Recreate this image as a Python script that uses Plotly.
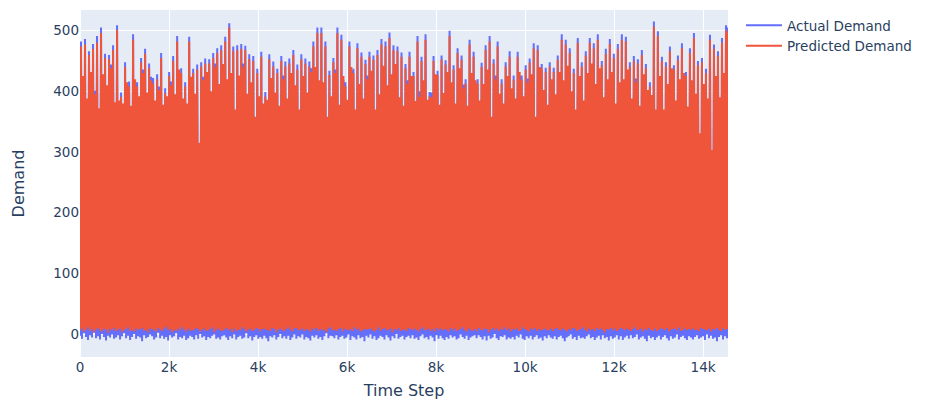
import numpy as np
import plotly.graph_objects as go

# ---- data (alternating troughs / peaks per ~2px column) ----
time_start = 0
time_end = 14560

predicted_top = [
    474, 425, 477, 388, 460, 432, 470, 395, 480, 372,
    496, 428, 455, 410, 453, 438, 468, 382, 501, 385,
    391, 380, 440, 415, 408, 376, 485, 420, 408, 392,
    448, 430, 462, 398, 439, 418, 413, 385, 420, 402,
    455, 378, 397, 392, 425, 410, 450, 395, 482, 436,
    430, 388, 408, 380, 482, 424, 430, 396, 436, 315,
    441, 418, 446, 432, 446, 400, 455, 440, 463, 412,
    468, 445, 482, 420, 505, 430, 466, 370, 468, 426,
    470, 440, 468, 396, 453, 415, 450, 358, 430, 392,
    457, 380, 391, 386, 453, 422, 441, 398, 430, 376,
    450, 420, 441, 388, 446, 430, 460, 410, 436, 370,
    453, 425, 446, 398, 441, 432, 474, 440, 496, 418,
    496, 415, 474, 358, 427, 392, 448, 430, 496, 378, 485, 425, 408, 386, 474, 440, 430, 370, 471, 412,
    457, 388, 445, 420, 457, 434, 452, 370, 460, 395, 477, 442, 474, 410, 488, 428, 468, 445, 466, 390,
    457, 376, 438, 412, 457, 425, 425, 384, 482, 391, 450, 418, 485, 386, 392, 390, 450, 428, 427, 378,
    452, 397, 444, 432, 491, 415, 436, 380, 463, 438, 452, 405, 413, 376, 477, 430, 457, 418, 413, 385,
    440, 412, 468, 436, 482, 358, 446, 420, 474, 396, 413, 380, 441, 425, 457, 405, 419, 388, 457, 432,
    419, 392, 436, 415, 447, 428, 471, 358, 468, 440, 438, 402, 432, 378, 441, 420, 432, 395, 452, 432,
    485, 418, 477, 442, 463, 400, 430, 370, 480, 425, 441, 385, 459, 430, 480, 446, 471, 412, 485, 438,
    443, 390, 462, 420, 478, 432, 455, 380, 470, 415,
    485, 420, 482, 436, 441, 388, 450, 415, 446, 376, 460, 428, 438, 402, 408, 394, 507, 370,
    491, 425, 450, 370, 441, 412, 466, 438, 436, 385, 452, 420, 471, 430, 425, 375, 463, 418,
    488, 396, 443, 331, 448, 412, 430, 388, 485, 303, 470, 425, 458, 390, 480, 430, 501, 497,
]

actual_top = [
    482, 419, 486, 382, 466, 426, 478, 401, 491, 366,
    505, 422, 462, 404, 460, 444, 476, 376, 509, 380,
    398, 372, 448, 409, 416, 370, 494, 414, 415, 386,
    455, 436, 470, 392, 446, 424, 422, 379, 428, 408,
    463, 372, 405, 386, 432, 416, 458, 389, 491, 430,
    438, 382, 415, 374, 490, 418, 437, 390, 444, 308,
    448, 424, 454, 426, 453, 394, 463, 446, 471, 406,
    476, 439, 490, 414, 512, 424, 474, 364, 476, 420,
    478, 446, 475, 390, 461, 409, 458, 352, 437, 386,
    465, 374, 399, 380, 461, 416, 449, 392, 437, 370,
    458, 426, 449, 382, 454, 424, 468, 404, 444, 364,
    461, 419, 454, 392, 449, 438, 482, 434, 505, 412,
    505, 409, 482, 352, 434, 386, 455, 436, 505, 372, 493, 419, 415, 380, 482, 434, 437, 364, 479, 406,
    464, 382, 452, 426, 465, 428, 459, 364, 468, 389, 486, 436, 482, 404, 497, 422, 476, 439, 474, 384,
    464, 370, 445, 418, 465, 419, 432, 378, 491, 400, 457, 412, 494, 380, 399, 398, 458, 422, 434, 372,
    459, 391, 451, 426, 500, 409, 443, 374, 471, 432, 459, 411, 420, 370, 485, 424, 465, 412, 420, 379,
    447, 406, 476, 430, 491, 352, 453, 426, 482, 390, 420, 374, 448, 419, 466, 399, 426, 382, 465, 426,
    426, 386, 443, 421, 454, 422, 479, 352, 476, 434, 445, 396, 439, 372, 448, 414, 439, 389, 459, 426,
    494, 412, 485, 436, 471, 394, 437, 364, 488, 419, 448, 379, 466, 424, 488, 440, 479, 406, 494, 432,
    450, 384, 470, 414, 486, 426, 462, 374, 478, 409,
    494, 414, 490, 430, 448, 382, 458, 421, 453, 370, 468, 422, 445, 396, 415, 388, 515, 364,
    499, 419, 457, 364, 448, 406, 474, 432, 443, 379, 459, 414, 479, 424, 432, 369, 471, 412,
    496, 390, 450, 325, 455, 406, 437, 382, 493, 297, 477, 419, 466, 384, 488, 424, 509, 505,
]

predicted_low = [
    6, 9, 4, 7, 11, 5, 8, 3, 7, 10, 6, 4, 9, 7, 2, 8, 6, 10,
    5, 7, 9, 3, 6, 8, 11, 5, 7, 4, 9, 6, 8, 10, 5, 7, 3, 9,
    8, 6, 4, 10, 7, 5, 9, 12, 6, 8, 3, 7, 5, 9, 6, 11, 7, 4,
    9, 5, 7, 6, 10, 8, 4, 7, 9, 5, 6, 8, 11, 3, 7, 9, 6, 5,
    7, 10, 6, 8, 3, 9, 5, 7, 6, 11, 8, 4, 7, 9, 5, 6, 10, 8,
    4, 8, 9, 6, 7, 5, 10, 8, 3, 7, 9, 6, 5, 8, 11, 7, 4, 9,
    10, 6, 7, 9, 5, 8, 6, 4, 9, 7, 10, 5, 8, 6, 7, 3, 9, 11,
    6, 7, 5, 8, 10, 4, 9, 7, 6, 8, 5, 11, 7, 9, 4, 6, 8, 7,
    8, 9, 6, 4, 7, 11, 5, 8, 10, 6, 7, 9, 3, 8, 6, 10, 5, 7,
    7, 5, 10, 8, 6, 9, 7, 4, 8, 11, 6, 7, 9, 5, 8, 4, 10, 6,
    9, 6, 8, 7, 4, 10, 6, 9, 5, 7, 8, 11, 6, 4, 9, 7, 5, 8,
    5, 10, 7, 6, 9, 8, 3, 7, 10, 6, 9, 5, 8, 7, 11, 6, 9, 4,
    8, 7, 9, 5, 6, 11, 8, 6, 4, 9, 7, 10, 5, 8, 6, 7, 9, 6,
    6, 9, 5, 8, 10, 7, 6, 9, 7, 4, 8, 6, 10, 9, 5, 7, 8, 11,
    7, 4, 9, 6, 8, 5, 10, 7, 9, 6, 3, 8, 7, 10, 6, 9, 5, 7,
    10, 8, 6, 9, 7, 5, 8, 11, 6, 7, 9, 4, 8, 6, 10, 7, 5, 9,
    5, 7, 9, 8, 6, 10, 4, 7, 8, 9, 6, 11, 5, 7, 9, 6, 8, 7,
    9, 6, 7, 5, 10, 8, 7, 6, 9, 4, 8, 7, 10, 6, 5, 9, 7, 8,
]

actual_low = [
    -3, -8, 1, -5, -10, -2, -6, 2, -7, -4, -9, 0, -5, -11, -3, -6, -1, -8,
    -6, -2, -9, -4, 1, -7, -3, -10, -5, 0, -8, -4, -6, -12, -2, -7, -5, -1,
    -4, -9, -6, 2, -7, -3, -8, -5, -11, -2, -6, -4, 1, -9, -5, -7, -3, -10,
    -7, -3, -5, -9, -2, -8, 0, -6, -4, -10, -5, -7, -3, -1, -8, -6, -9, -4,
    -2, -6, -10, -4, -7, -1, -9, -5, -3, -8, -6, 1, -7, -4, -11, -5, -2, -8,
    -5, -8, -3, -7, -12, -4, -6, -2, -9, -5, 0, -7, -4, -8, -3, -10, -6, -1,
    -8, -4, -6, -1, -9, -5, -7, -11, -3, -6, -2, -8, -5, -10, -4, 1, -7, -3,
    -4, -7, -2, -9, -5, -3, -8, -6, -1, -10, -4, -6, -9, -2, -7, -5, -12, -3,
    -6, -1, -8, -4, -10, -7, -3, -5, -9, -2, -6, -11, -4, -7, 0, -8, -5, -3,
    -9, -5, -3, -7, -2, -8, -6, -10, -4, -1, -7, -5, -9, -3, -6, -12, -2, -8,
    -3, -7, -10, -5, -8, -2, -6, -4, -9, -7, -1, -5, -8, -3, -10, -6, -4, -2,
    -7, -2, -5, -9, -4, -11, -3, -8, -6, 0, -7, -10, -4, -5, -2, -9, -6, -8,
    -5, -9, -3, -6, -1, -8, -10, -4, -7, -3, -9, -5, -2, -8, -6, -11, -4, -7,
    -2, -6, -8, -4, -9, -5, -3, -7, -12, -6, -4, -1, -8, -5, -10, -3, -7, -6,
    -8, -4, -1, -7, -5, -10, -6, -3, -9, -2, -7, -5, -11, -4, -8, -6, -2, -9,
    -4, -10, -6, -3, -8, -2, -7, -5, -1, -9, -6, -4, -8, -12, -3, -7, -5, -10,
    -6, -3, -9, -5, -2, -7, -11, -4, -8, -6, -1, -9, -5, -3, -7, -10, -4, -6,
    -9, -5, -2, -8, -6, -4, -10, -1, -7, -3, -8, -6, -12, -5, -2, -9, -4, -7,
]

x_tick_vals = [0, 2000, 4000, 6000, 8000, 10000, 12000, 14000]
x_tick_text = ["0", "2k", "4k", "6k", "8k", "10k", "12k", "14k"]
y_tick_vals = [0, 100, 200, 300, 400, 500]

# ---- build series: each sampled step alternates a trough and a peak ----
n = min(len(predicted_top), len(actual_top), len(predicted_low), len(actual_low))


def interleave(lows, tops):
    out = []
    for lo, hi in zip(lows[:n], tops[:n]):
        out.append(lo)
        out.append(hi)
    return out


actual_demand = interleave(actual_low, actual_top)
predicted_demand = interleave(predicted_low, predicted_top)
time_step = np.linspace(time_start, time_end, len(actual_demand))

fig = go.Figure()
fig.add_trace(go.Scatter(x=time_step, y=actual_demand, mode="lines",
                         name="Actual Demand", line=dict(color="#636efa", width=2)))
fig.add_trace(go.Scatter(x=time_step, y=predicted_demand, mode="lines",
                         name="Predicted Demand", line=dict(color="#EF553B", width=2)))

fig.update_layout(
    template="plotly",
    width=934,
    height=400,
    margin=dict(l=80, r=206, t=10, b=43),
    font=dict(family="DejaVu Sans, Verdana, sans-serif", size=13.5, color="#2a3f5f"),
    showlegend=True,
    legend=dict(x=1.02, y=1, itemwidth=36),
)
fig.update_xaxes(title_text="Time Step", range=[time_start, time_end],
                 tickvals=x_tick_vals, ticktext=x_tick_text, automargin=False)
fig.update_yaxes(title_text="Demand", title_standoff=24, range=[-38, 534],
                 tickvals=y_tick_vals, automargin=False)

fig.write_html("out.html")
